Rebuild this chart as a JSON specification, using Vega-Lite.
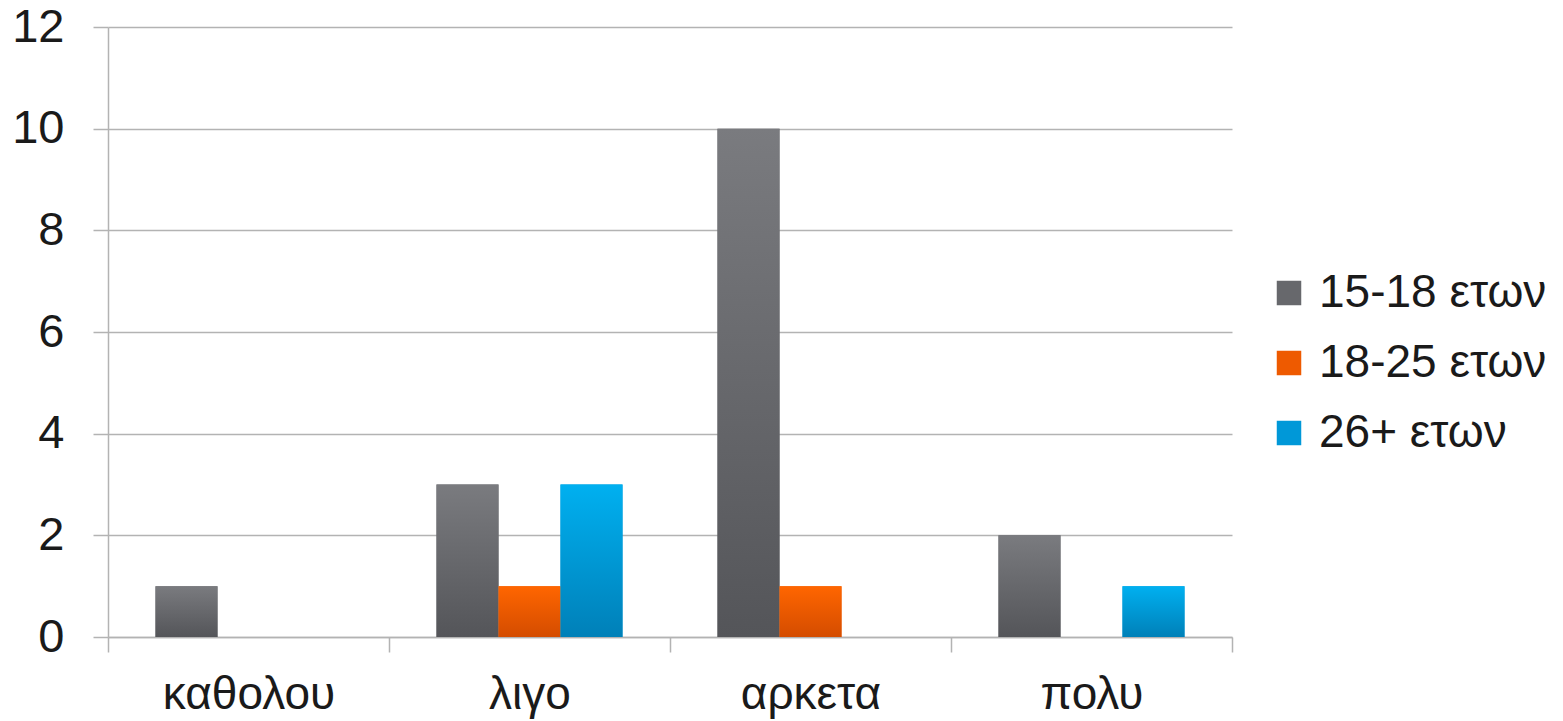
{
  "$schema": "https://vega.github.io/schema/vega-lite/v6.json",
  "width": 1124,
  "height": 610,
  "autosize": {"type": "none"},
  "padding": {"left": 108, "top": 27, "right": 331, "bottom": 84},
  "background": "white",
  "config": {
    "font": "Liberation Sans",
    "view": {"stroke": null}
  },
  "data": {
    "values": [
      {"category": "καθολου", "group": "15-18 ετων", "value": 1},
      {"category": "λιγο", "group": "15-18 ετων", "value": 3},
      {"category": "λιγο", "group": "18-25 ετων", "value": 1},
      {"category": "λιγο", "group": "26+ ετων", "value": 3},
      {"category": "αρκετα", "group": "15-18 ετων", "value": 10},
      {"category": "αρκετα", "group": "18-25 ετων", "value": 1},
      {"category": "πολυ", "group": "15-18 ετων", "value": 2},
      {"category": "πολυ", "group": "26+ ετων", "value": 1}
    ]
  },
  "encoding": {
    "x": {
      "field": "category",
      "type": "nominal",
      "sort": ["καθολου", "λιγο", "αρκετα", "πολυ"],
      "scale": {"paddingInner": 0, "paddingOuter": 0},
      "axis": {
        "title": null,
        "labelAngle": 0,
        "labelFontSize": 46,
        "labelColor": "#1a1a1a",
        "labelPadding": 20,
        "labelBaseline": "top",
        "tickBand": "extent",
        "tickSize": 15,
        "tickColor": "#b3b3b3",
        "tickWidth": 1.5,
        "domainColor": "#b3b3b3",
        "domainWidth": 1.5
      }
    },
    "xOffset": {
      "field": "group",
      "type": "nominal",
      "scale": {"domain": ["15-18 ετων", "18-25 ετων", "26+ ετων"], "paddingInner": 0, "paddingOuter": 0.766}
    },
    "y": {
      "field": "value",
      "type": "quantitative",
      "scale": {"domain": [0, 12]},
      "axis": {
        "title": null,
        "values": [0, 2, 4, 6, 8, 10, 12],
        "labelFontSize": 47,
        "labelColor": "#1a1a1a",
        "labelPadding": 29,
        "tickSize": 15,
        "tickColor": "#b3b3b3",
        "tickWidth": 1.5,
        "gridColor": "#b3b3b3",
        "gridWidth": 1.5,
        "domainColor": "#b3b3b3",
        "domainWidth": 1.5
      }
    }
  },
  "layer": [
    {
      "mark": {"type": "bar"},
      "encoding": {
        "color": {
          "field": "group",
          "type": "nominal",
          "scale": {
            "domain": ["15-18 ετων", "18-25 ετων", "26+ ετων"],
            "range": ["#67686c", "#ee5a00", "#0098d8"]
          },
          "legend": {
            "title": null,
            "orient": "none",
            "legendX": 1158,
            "legendY": 243,
            "symbolType": "square",
            "symbolSize": 600,
            "symbolStrokeWidth": 0,
            "labelFontSize": 46,
            "labelColor": "#1a1a1a",
            "labelOffset": 7,
            "rowPadding": 24,
            "labelLimit": 400
          }
        }
      }
    },
    {
      "transform": [{"filter": "datum.group === '15-18 ετων'"}],
      "mark": {"type": "bar", "color": {"gradient": "linear", "x1": 0, "y1": 0, "x2": 0, "y2": 1, "stops": [{"offset": 0, "color": "#7a7b7f"}, {"offset": 1, "color": "#545559"}]}}
    },
    {
      "transform": [{"filter": "datum.group === '18-25 ετων'"}],
      "mark": {"type": "bar", "color": {"gradient": "linear", "x1": 0, "y1": 0, "x2": 0, "y2": 1, "stops": [{"offset": 0, "color": "#ff6600"}, {"offset": 1, "color": "#d44c00"}]}}
    },
    {
      "transform": [{"filter": "datum.group === '26+ ετων'"}],
      "mark": {"type": "bar", "color": {"gradient": "linear", "x1": 0, "y1": 0, "x2": 0, "y2": 1, "stops": [{"offset": 0, "color": "#00b0f0"}, {"offset": 1, "color": "#0080b8"}]}}
    }
  ]
}
